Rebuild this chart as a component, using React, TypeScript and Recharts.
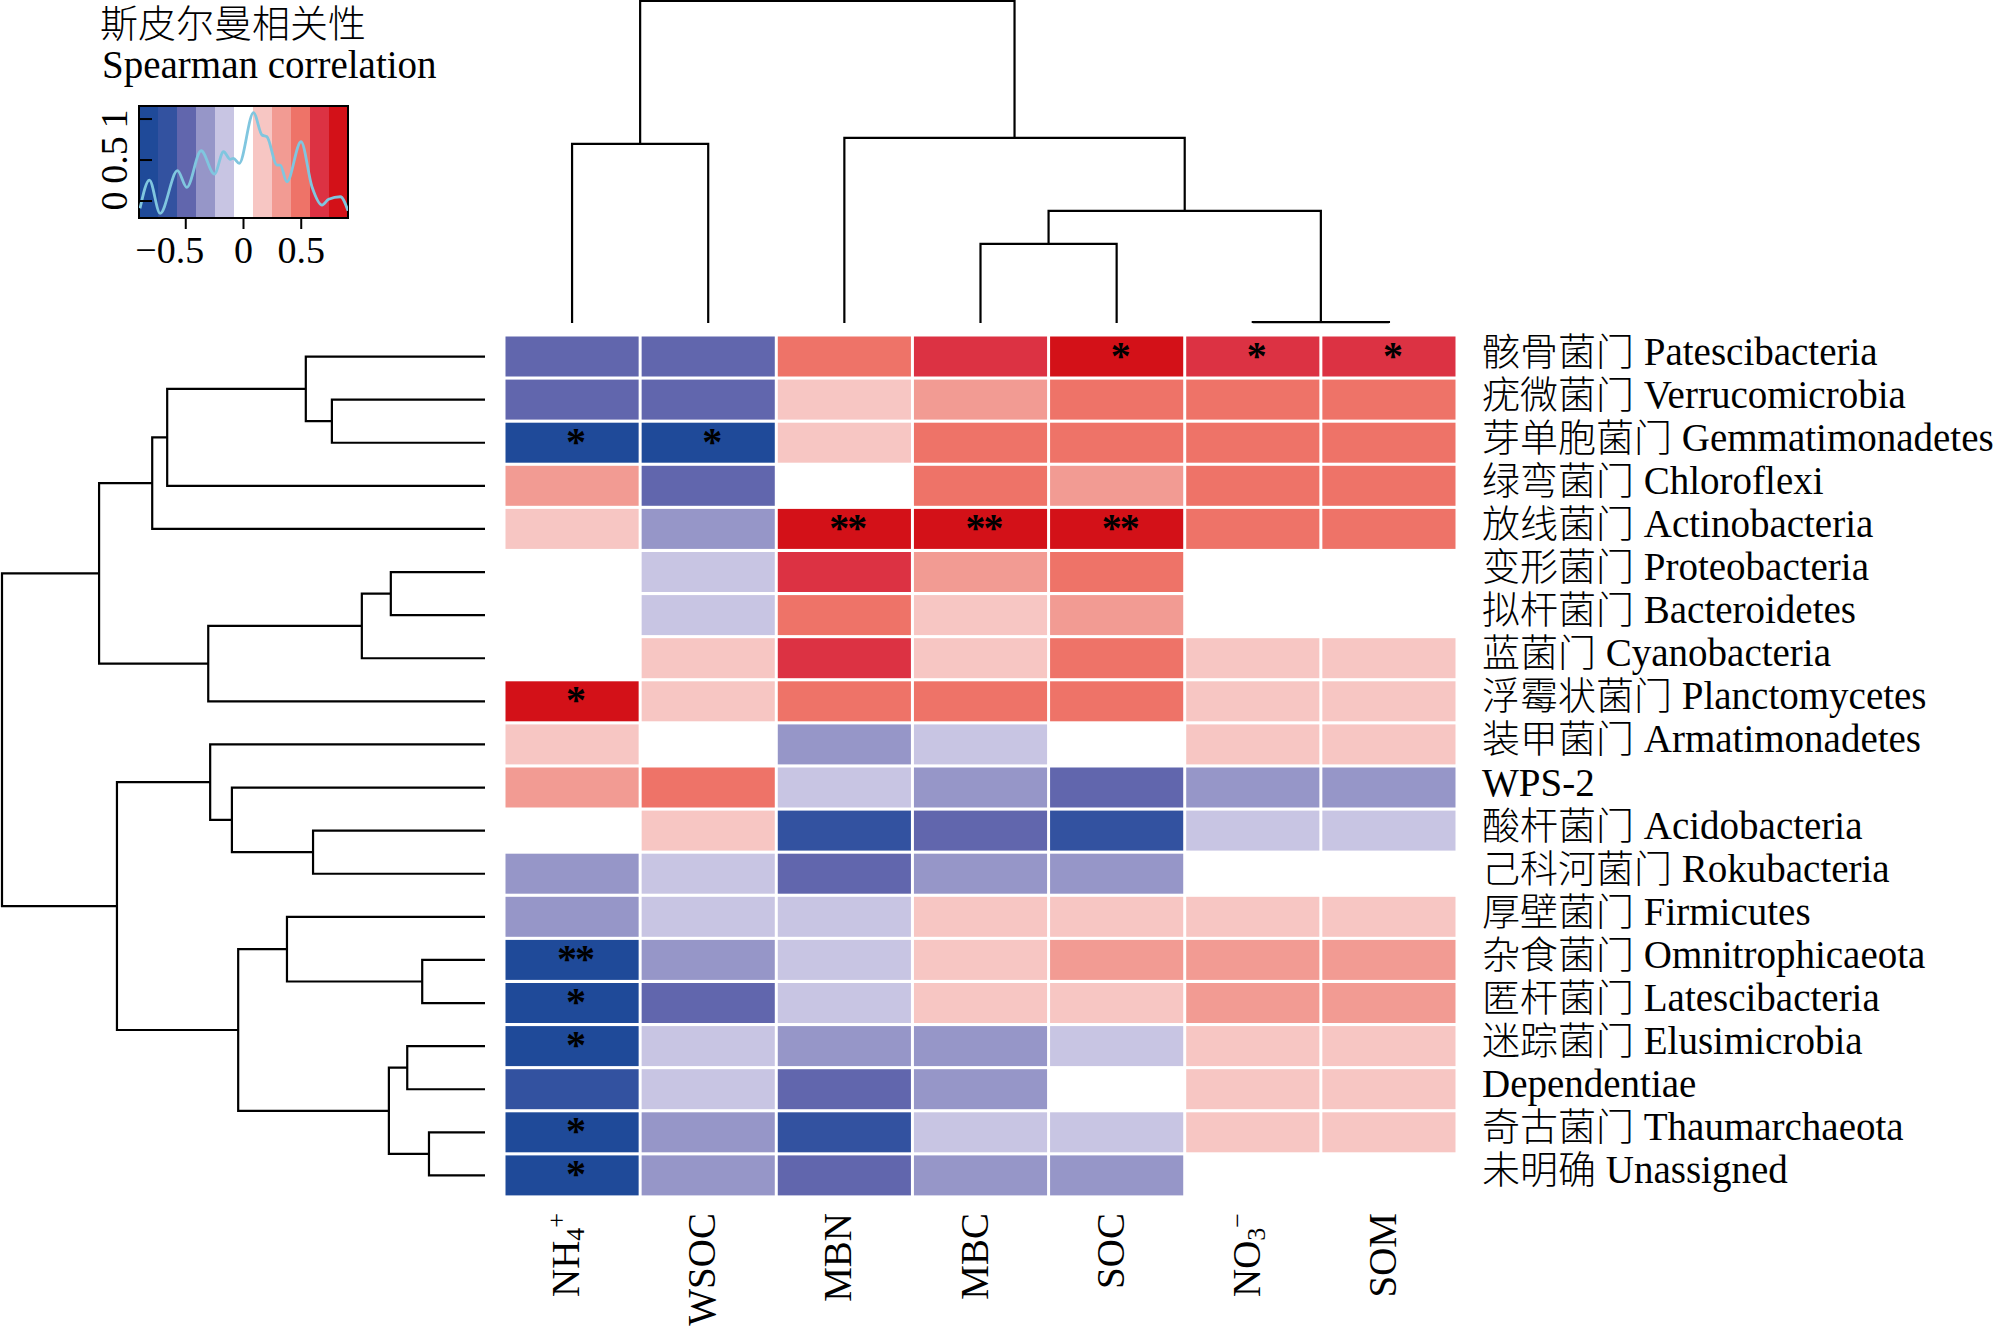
import React from "react";
import {
  BarChart,
  Bar,
  XAxis,
  YAxis,
  LabelList,
  Cell,
  ScatterChart,
  Scatter,
  LineChart,
  Line,
  ReferenceArea,
} from "recharts";

const SERIF = "'Liberation Serif', 'Noto Sans CJK SC', serif";
const CJK = "'Noto Sans CJK SC', sans-serif";

// columns of the heatmap (left to right)
const columns = ["NH4+", "WSOC", "MBN", "MBC", "SOC", "NO3-", "SOM"];

// rows of the heatmap (top to bottom)
const phylaCn = [
  "骸骨菌门", "疣微菌门", "芽单胞菌门", "绿弯菌门", "放线菌门",
  "变形菌门", "拟杆菌门", "蓝菌门", "浮霉状菌门", "装甲菌门",
  "", "酸杆菌门", "己科河菌门", "厚壁菌门", "杂食菌门",
  "匿杆菌门", "迷踪菌门", "", "奇古菌门", "未明确",
];
const phylaEn = [
  "Patescibacteria", "Verrucomicrobia", "Gemmatimonadetes", "Chloroflexi", "Actinobacteria",
  "Proteobacteria", "Bacteroidetes", "Cyanobacteria", "Planctomycetes", "Armatimonadetes",
  "WPS-2", "Acidobacteria", "Rokubacteria", "Firmicutes", "Omnitrophicaeota",
  "Latescibacteria", "Elusimicrobia", "Dependentiae", "Thaumarchaeota", "Unassigned",
];

// Spearman correlation per column, row order as above
const nh4 = [-0.48, -0.52, -0.78, 0.33, 0.14, 0.03, -0.02, 0.05, 0.79, 0.17, 0.36, 0.01, -0.37, -0.3, -0.86, -0.81, -0.77, -0.66, -0.8, -0.79];
const wsoc = [-0.46, -0.5, -0.76, -0.53, -0.32, -0.18, -0.15, 0.19, 0.12, 0.02, 0.47, 0.13, -0.2, -0.16, -0.35, -0.44, -0.21, -0.13, -0.29, -0.33];
const mbn = [0.52, 0.21, 0.16, -0.04, 0.83, 0.66, 0.49, 0.69, 0.45, -0.36, -0.19, -0.7, -0.51, -0.14, -0.22, -0.17, -0.31, -0.48, -0.63, -0.55];
const mbc = [0.64, 0.35, 0.5, 0.46, 0.8, 0.3, 0.18, 0.11, 0.54, -0.12, -0.34, -0.47, -0.28, 0.15, 0.2, 0.12, -0.38, -0.27, -0.19, -0.32];
const soc = [0.77, 0.51, 0.44, 0.29, 0.86, 0.48, 0.37, 0.55, 0.46, -0.05, -0.52, -0.67, -0.36, 0.22, 0.31, 0.16, -0.1, 0.06, -0.18, -0.29];
const no3 = [0.68, 0.47, 0.53, 0.46, 0.5, 0.04, -0.05, 0.13, 0.2, 0.1, -0.29, -0.11, 0.0, 0.17, 0.36, 0.34, 0.19, 0.14, 0.12, -0.03];
const som = [0.62, 0.45, 0.56, 0.48, 0.44, 0.07, -0.01, 0.18, 0.15, 0.21, -0.3, -0.16, -0.06, 0.12, 0.31, 0.37, 0.11, 0.19, 0.21, 0.02];

// significance marks
const nh4Sig = ["", "", "*", "", "", "", "", "", "*", "", "", "", "", "", "**", "*", "*", "", "*", "*"];
const wsocSig = ["", "", "*", "", "", "", "", "", "", "", "", "", "", "", "", "", "", "", "", ""];
const mbnSig = ["", "", "", "", "**", "", "", "", "", "", "", "", "", "", "", "", "", "", "", ""];
const mbcSig = ["", "", "", "", "**", "", "", "", "", "", "", "", "", "", "", "", "", "", "", ""];
const socSig = ["*", "", "", "", "**", "", "", "", "", "", "", "", "", "", "", "", "", "", "", ""];
const no3Sig = ["*", "", "", "", "", "", "", "", "", "", "", "", "", "", "", "", "", "", "", ""];
const somSig = ["*", "", "", "", "", "", "", "", "", "", "", "", "", "", "", "", "", "", "", ""];

const corrByCol = [nh4, wsoc, mbn, mbc, soc, no3, som];
const sigByCol = [nh4Sig, wsocSig, mbnSig, mbcSig, socSig, no3Sig, somSig];

// colour key
const palette = ["#1f4a99", "#3352a0", "#6166ad", "#9696c8", "#c8c5e3", "#ffffff", "#f7c6c3", "#f29b93", "#ee7368", "#dc3243", "#d31118"];
const breaks = [-0.905, -0.74, -0.58, -0.41, -0.245, -0.085, 0.08, 0.245, 0.41, 0.575, 0.74, 0.905];

// density trace drawn on the key
const densR = [-0.896, -0.815, -0.722, -0.572, -0.491, -0.367, -0.252, -0.173, -0.115, -0.087, -0.037, 0.087, 0.16, 0.203, 0.29, 0.318, 0.376, 0.498, 0.593, 0.68, 0.737, 0.839, 0.905];
const densD = [-0.089, 0.256, -0.15, 0.37, 0.167, 0.613, 0.329, 0.601, 0.509, 0.521, 0.46, 1.077, 0.805, 0.784, 0.439, 0.439, 0.235, 0.723, 0.174, -0.049, 0.021, 0.052, -0.118];

// hclust-style merges: negative = leaf (1-based), positive = earlier merge
const rowMerges = [
  [-2, -3, 0.317], [-1, 1, 0.371], [2, -4, 0.658], [3, -5, 0.689],
  [-6, -7, 0.195], [5, -8, 0.255], [6, -9, 0.573], [4, 7, 0.799],
  [-12, -13, 0.356], [-11, 9, 0.524], [-10, 10, 0.569],
  [-15, -16, 0.13], [-14, 12, 0.41], [-17, -18, 0.161], [-19, -20, 0.116],
  [14, 15, 0.199], [13, 16, 0.511], [11, 17, 0.762], [8, 18, 1.0],
];
const colMerges = [
  [-6, -7, 0.003], [-4, -5, 0.246], [-1, -2, 0.556], [2, 1, 0.348], [-3, 4, 0.575], [3, 5, 1.0],
];

function corrColor(v: number) {
  for (let i = 0; i < palette.length; i++) if (v < breaks[i + 1]) return palette[i];
  return palette[palette.length - 1];
}

function dendroLinks(merges: number[][]) {
  const pos: number[] = [];
  const ht: number[] = [];
  const p = (r: number) => (r < 0 ? -r - 0.5 : pos[r - 1]);
  const h = (r: number) => (r < 0 ? 0 : ht[r - 1]);
  return merges.map(([a, b, hh], i) => {
    pos[i] = (p(a) + p(b)) / 2;
    ht[i] = hh;
    return [
      { p: p(a), h: h(a) },
      { p: p(a), h: hh },
      { p: p(b), h: hh },
      { p: p(b), h: h(b) },
    ];
  });
}

const heatRows = phylaEn.map((name, i) => {
  const row: any = { name, cn: phylaCn[i] };
  columns.forEach((_, c) => {
    row[`cell${c}`] = 1;
    row[`r${c}`] = corrByCol[c][i];
    row[`s${c}`] = sigByCol[c][i];
  });
  return row;
});

const densityData = densR.map((r, i) => ({ r, d: densD[i] }));
const keyBins = palette.map((_, i) => ({ bin: i, full: 1 }));

const noDot = () => <g />;

const StarLabel = (props: any) => {
  const vb = props.viewBox ?? props;
  if (!props.value) return null;
  return (
    <text
      x={vb.x + vb.width / 2 + 3}
      y={vb.y + vb.height / 2 + 12}
      textAnchor="middle"
      fontSize={40}
      fontWeight="bold"
      fontFamily={SERIF}
      fill="#000"
      letterSpacing={-2}
    >
      {props.value}
    </text>
  );
};

const RowTick = (props: any) => {
  const { x, y, index, payload } = props;
  const cn = phylaCn[index];
  return (
    <text x={x} y={y} dy={8} textAnchor="start" fontSize={39} fontFamily={SERIF} fill="#000">
      {cn ? (
        <tspan fontFamily={CJK} fontSize={38} fontWeight={300}>
          {cn}
        </tspan>
      ) : null}
      <tspan>{cn ? ` ${payload.value}` : payload.value}</tspan>
    </text>
  );
};

const ColTick = (props: any) => {
  const { x, y, payload } = props;
  const name = columns[Math.floor(payload.value)];
  const bx = x + 7;
  let body: React.ReactNode = name;
  if (name === "NH4+" || name === "NO3-") {
    body = (
      <>
        <tspan>{name === "NH4+" ? "NH" : "NO"}</tspan>
        <tspan fontSize={26} dy={5}>{name === "NH4+" ? "4" : "3"}</tspan>
        <tspan fontSize={26} dy={-19}>{name === "NH4+" ? "+" : "−"}</tspan>
      </>
    );
  }
  return (
    <text x={bx} y={y} transform={`rotate(-90, ${bx}, ${y})`} textAnchor="end" fontSize={39} fontFamily={SERIF} fill="#000">
      {body}
    </text>
  );
};

const KeyXTick = (props: any) => {
  const { x, y, payload } = props;
  const v = payload.value;
  return (
    <text x={v < 0 ? x - 16 : x} y={y} dy="0.71em" textAnchor="middle" fontSize={38} fontFamily={SERIF} fill="#000">
      {v < 0 ? `−${Math.abs(v)}` : `${v}`}
    </text>
  );
};

const KeyYTick = (props: any) => {
  const { x, y, payload } = props;
  return (
    <text x={x} y={y} transform={`rotate(-90, ${x}, ${y})`} textAnchor="middle" fontSize={38} fontFamily={SERIF} fill="#000">
      {`${payload.value}`}
    </text>
  );
};

const abs = (left: number, top: number): React.CSSProperties => ({ position: "absolute", left, top });

export default function App() {
  const rowLinks = dendroLinks(rowMerges);
  const colLinks = dendroLinks(colMerges);
  return (
    <div style={{ position: "absolute", left: 0, top: 0, width: 2000, height: 1326, background: "#fff", overflow: "hidden" }}>
      {/* heatmap */}
      <div style={abs(0, 0)}>
        <BarChart
          width={2000}
          height={1326}
          data={heatRows}
          layout="vertical"
          barCategoryGap={1.5}
          margin={{ top: 335, right: 23, bottom: 9, left: 504 }}
        >
          <XAxis
            type="number"
            domain={[0, 7]}
            ticks={[0.5, 1.5, 2.5, 3.5, 4.5, 5.5, 6.5]}
            interval={0}
            axisLine={false}
            tickLine={false}
            tickSize={0}
            tickMargin={16}
            height={120}
            tick={<ColTick />}
          />
          <YAxis
            type="category"
            dataKey="name"
            orientation="right"
            interval={0}
            axisLine={false}
            tickLine={false}
            tickSize={0}
            tickMargin={25}
            width={520}
            tick={<RowTick />}
          />
          {columns.map((col, c) => (
            <Bar
              key={col}
              dataKey={`cell${c}`}
              stackId="hm"
              isAnimationActive={false}
              shape={(p: any) => {
                const row = p.payload ?? heatRows[p.index];
                return <rect x={p.x + 1.5} y={p.y} width={p.width - 3} height={p.height} fill={corrColor(row[`r${c}`])} />;
              }}
            >
              <LabelList dataKey={`s${c}`} content={<StarLabel />} />
            </Bar>
          ))}
        </BarChart>
      </div>

      {/* column dendrogram */}
      <div style={abs(0, 0)}>
        <ScatterChart width={2000} height={330} margin={{ top: 1, right: 543, bottom: 7, left: 504 }}>
          <XAxis type="number" dataKey="p" domain={[0, 7]} hide />
          <YAxis type="number" dataKey="h" domain={[0, 1]} hide />
          {colLinks.map((pts, i) => (
            <Scatter key={i} data={pts} line={{ stroke: "#000", strokeWidth: 2.2 }} shape={noDot} isAnimationActive={false} />
          ))}
        </ScatterChart>
      </div>

      {/* row dendrogram */}
      <div style={abs(0, 0)}>
        <ScatterChart width={500} height={1326} margin={{ top: 335, right: 15, bottom: 129, left: 2 }}>
          <XAxis type="number" dataKey="h" domain={[0, 1]} reversed hide />
          <YAxis type="number" dataKey="p" domain={[0, 20]} reversed hide />
          {rowLinks.map((pts, i) => (
            <Scatter key={i} data={pts} line={{ stroke: "#000", strokeWidth: 2.2 }} shape={noDot} isAnimationActive={false} />
          ))}
        </ScatterChart>
      </div>

      {/* colour key bins */}
      <div style={abs(0, 0)}>
        <BarChart width={400} height={280} data={keyBins} barCategoryGap={0} margin={{ top: 106, right: 52, bottom: 62, left: 139 }}>
          <XAxis dataKey="bin" hide />
          <YAxis type="number" domain={[0, 1]} hide />
          <Bar dataKey="full" isAnimationActive={false}>
            {keyBins.map((b) => (
              <Cell key={b.bin} fill={palette[b.bin]} />
            ))}
          </Bar>
        </BarChart>
      </div>

      {/* colour key density + axes */}
      <div style={abs(0, 0)}>
        <LineChart width={400} height={280} data={densityData} margin={{ top: 106, right: 52, bottom: 12, left: 79 }}>
          <XAxis
            type="number"
            dataKey="r"
            domain={[-0.905, 0.905]}
            ticks={[-0.5, 0, 0.5]}
            allowDataOverflow
            axisLine={false}
            tickSize={11}
            tickMargin={7}
            tickLine={{ stroke: "#000", strokeWidth: 2 }}
            height={50}
            tick={<KeyXTick />}
          />
          <YAxis
            type="number"
            domain={[-0.207, 1.159]}
            ticks={[0, 0.5, 1]}
            allowDataOverflow
            axisLine={false}
            tickSize={-13}
            tickMargin={25}
            tickLine={{ stroke: "#000", strokeWidth: 2 }}
            width={60}
            tick={<KeyYTick />}
          />
          <Line type="monotone" dataKey="d" stroke="#80c6df" strokeWidth={2.8} dot={false} isAnimationActive={false} />
          <ReferenceArea x1={-0.905} x2={0.905} y1={-0.207} y2={1.159} fill="none" stroke="#000" strokeWidth={2} ifOverflow="visible" />
        </LineChart>
      </div>

      {/* key title */}
      <svg width={500} height={100} style={abs(0, 0)}>
        <text x={100} y={37} fontSize={38} fontFamily={CJK} fontWeight={300} fill="#000">斯皮尔曼相关性</text>
        <text x={102} y={78} fontSize={39} fontFamily={SERIF} fill="#000">Spearman correlation</text>
      </svg>
    </div>
  );
}
